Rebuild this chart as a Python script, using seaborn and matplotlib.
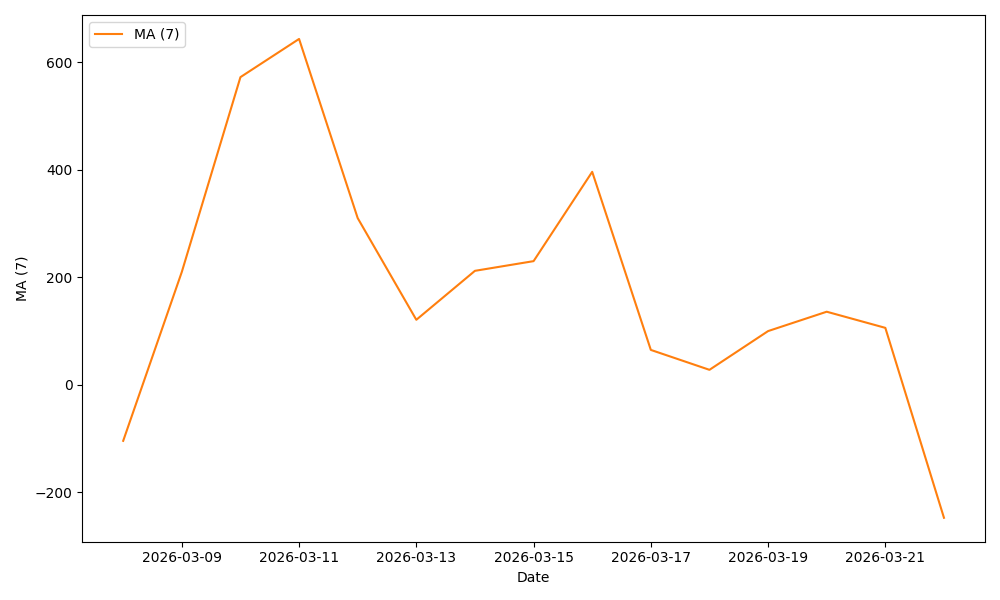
import seaborn as sns
import pandas as pd
import numpy as np
import matplotlib.pyplot as plt
import matplotlib.dates as mdates

dates = pd.date_range("2026-03-08", "2026-03-22", freq="D")
ma7 = [-104, 210, 572, 643, 310, 121, 212, 230, 396, 65, 28, 100, 136, 106, -247]

df = pd.DataFrame({"Date": dates, "MA (7)": ma7})

fig, ax = plt.subplots(figsize=(10, 6))
sns.lineplot(data=df, x="Date", y="MA (7)", color="#ff7f0e", label="MA (7)", ax=ax)
ax.xaxis.set_major_locator(mdates.DayLocator(interval=2, bymonthday=range(1, 32, 2)))
ax.xaxis.set_major_formatter(mdates.DateFormatter("%Y-%m-%d"))
ax.set_xlabel("Date")
ax.set_ylabel("MA (7)")
ax.legend(loc="upper left")
plt.tight_layout()
plt.savefig("out.png", dpi=100)
